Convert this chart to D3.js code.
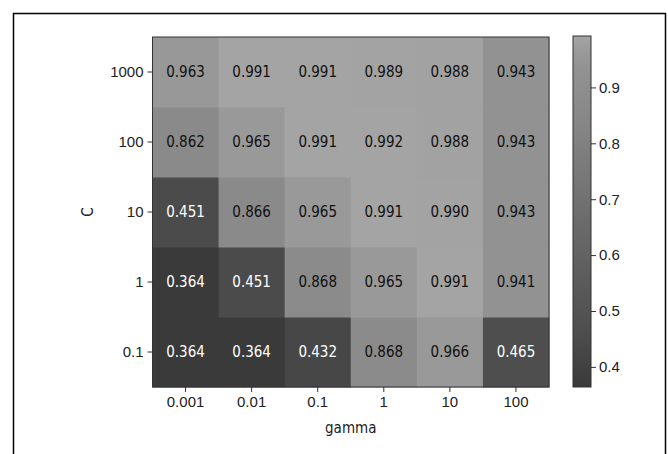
<!DOCTYPE html>
<html>
<head>
<meta charset="utf-8">
<script src="https://cdn.jsdelivr.net/npm/d3@7"></script>
<style>
  body { margin: 0; background: #fff; }
  svg { display: block; font-family: "DejaVu Sans Condensed", "DejaVu Sans", sans-serif; }
</style>
</head>
<body>
<svg id="chart" width="668" height="454"></svg>
<script>
// grid search results: rows are C values (bottom to top), columns gamma values
const gammaLabels = ["0.001", "0.01", "0.1", "1", "10", "100"];
const cLabels = ["0.1", "1", "10", "100", "1000"];
const scores = [
  [0.364, 0.364, 0.432, 0.868, 0.966, 0.465], // C = 0.1
  [0.364, 0.451, 0.868, 0.965, 0.991, 0.941], // C = 1
  [0.451, 0.866, 0.965, 0.991, 0.990, 0.943], // C = 10
  [0.862, 0.965, 0.991, 0.992, 0.988, 0.943], // C = 100
  [0.963, 0.991, 0.991, 0.989, 0.988, 0.943]  // C = 1000
];
const cbTicks = [0.4, 0.5, 0.6, 0.7, 0.8, 0.9];

const FS = 15;
const svg = d3.select("#chart");

// outer frame
svg.append("rect")
    .attr("x", 13.5).attr("y", 13.5)
    .attr("width", 652).attr("height", 470)
    .attr("fill", "none").attr("stroke", "#000").attr("stroke-width", 1.5);

const mLeft = 152.5, mRight = 549, mTop = 37, mBottom = 387;

const x = d3.scaleBand().domain(gammaLabels).range([mLeft, mRight]);
const y = d3.scaleBand().domain(cLabels).range([mBottom, mTop]);

const vmin = 0.364, vmax = 0.992;
// grey ramp
const grey = d3.scaleLinear()
    .domain([vmin, 0.465, 0.862, 0.943, 0.965, vmax])
    .range([58, 78, 138, 146, 153, 164])
    .clamp(true);
const color = v => { const g = Math.round(grey(v)); return `rgb(${g},${g},${g})`; };

const cells = [];
scores.forEach((row, i) => row.forEach((v, j) => cells.push({ c: cLabels[i], g: gammaLabels[j], v })));

svg.append("g")
  .selectAll("rect")
  .data(cells)
  .join("rect")
    .attr("x", d => x(d.g))
    .attr("y", d => y(d.c))
    .attr("width", x.bandwidth() + 0.5)
    .attr("height", y.bandwidth() + 0.5)
    .attr("fill", d => color(d.v));

svg.append("g")
    .attr("font-size", FS)
    .attr("text-anchor", "middle")
  .selectAll("text")
  .data(cells)
  .join("text")
    .attr("x", d => x(d.g) + x.bandwidth() / 2)
    .attr("y", d => y(d.c) + y.bandwidth() / 2)
    .attr("dy", "0.36em")
    .attr("fill", d => grey(d.v) > 110 ? "#111" : "#fff")
    .text(d => d.v.toFixed(3));

svg.append("rect")
    .attr("x", mLeft).attr("y", mTop)
    .attr("width", mRight - mLeft).attr("height", mBottom - mTop)
    .attr("fill", "none").attr("stroke", "#333").attr("stroke-width", 1);

const xAxis = svg.append("g")
    .attr("transform", `translate(0,${mBottom})`)
    .call(d3.axisBottom(x).tickSize(5).tickPadding(4));
const yAxis = svg.append("g")
    .attr("transform", `translate(${mLeft},0)`)
    .call(d3.axisLeft(y).tickSize(5).tickPadding(4));
[xAxis, yAxis].forEach(a => {
  a.select(".domain").remove();
  a.selectAll("text").attr("font-size", FS).attr("fill", "#222").attr("font-family", null);
  a.selectAll("line").attr("stroke", "#333");
});

svg.append("text")
    .attr("x", (mLeft + mRight) / 2).attr("y", 433)
    .attr("text-anchor", "middle").attr("font-size", FS).attr("fill", "#222")
    .text("gamma");
svg.append("text")
    .attr("transform", `translate(93,${(mTop + mBottom) / 2}) rotate(-90)`)
    .attr("text-anchor", "middle").attr("font-size", FS).attr("fill", "#222")
    .text("C");

// colorbar
const cbX = 573, cbW = 18, cbTop = 36, cbBottom = 387;
const cb = d3.scaleLinear().domain([vmin, vmax]).range([cbBottom, cbTop]);
const grad = svg.append("defs").append("linearGradient")
    .attr("id", "cbgrad").attr("x1", 0).attr("y1", 1).attr("x2", 0).attr("y2", 0);
d3.range(0, 1.0001, 0.05).forEach(t => {
  grad.append("stop").attr("offset", t).attr("stop-color", color(vmin + t * (vmax - vmin)));
});
svg.append("rect")
    .attr("x", cbX).attr("y", cbTop)
    .attr("width", cbW).attr("height", cbBottom - cbTop)
    .attr("fill", "url(#cbgrad)")
    .attr("stroke", "#333").attr("stroke-width", 1);
const cbAxis = svg.append("g")
    .attr("transform", `translate(${cbX + cbW},0)`)
    .call(d3.axisRight(cb).tickValues(cbTicks).tickFormat(d3.format(".1f")).tickSize(5).tickPadding(3));
cbAxis.select(".domain").remove();
cbAxis.selectAll("text").attr("font-size", FS).attr("fill", "#222").attr("font-family", null);
cbAxis.selectAll("line").attr("stroke", "#333");
</script>
</body>
</html>
